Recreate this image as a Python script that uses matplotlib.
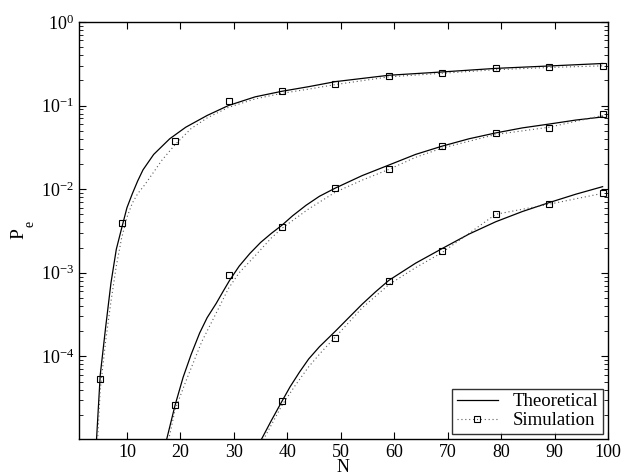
import matplotlib.pyplot as plt
from matplotlib.lines import Line2D
from matplotlib.ticker import LogLocator, NullFormatter

plt.rcParams['font.family'] = ['Liberation Serif', 'DejaVu Serif']
plt.rcParams['mathtext.fontset'] = 'custom'
plt.rcParams['mathtext.rm'] = 'Liberation Serif'
plt.rcParams['mathtext.it'] = 'Liberation Serif:italic'

# theoretical curves
theo_n_1 = [4.3, 5, 6, 7, 8, 9, 10, 11, 12, 13, 15, 18, 21, 25, 29, 34, 39, 44, 49, 59, 69, 79, 89, 99]
theo_pe_1 = [1e-5, 6e-5, 2.2e-4, 7.5e-4, 1.9e-3, 3.4e-3, 6.0e-3, 8.8e-3, 0.0125, 0.017, 0.026, 0.040,
             0.055, 0.076, 0.10, 0.127, 0.148, 0.168, 0.193, 0.23, 0.252, 0.278, 0.297, 0.318]

theo_n_2 = [17.4, 19, 20.5, 22, 23.6, 25, 26.7, 28, 29.2, 31, 33, 35, 37, 39, 41, 43.5, 46, 49,
            54, 59, 64, 69, 74, 79, 84, 89, 94, 99]
theo_pe_2 = [1e-5, 2.6e-5, 5.6e-5, 1.05e-4, 1.9e-4, 2.9e-4, 4.3e-4, 6.0e-4, 8.1e-4, 1.2e-3, 1.7e-3,
             2.3e-3, 2.95e-3, 3.7e-3, 4.8e-3, 6.4e-3, 8.2e-3, 0.0103, 0.0145, 0.0194, 0.026, 0.0327,
             0.040, 0.047, 0.054, 0.060, 0.067, 0.073]

theo_n_3 = [35.1, 37, 39, 40.5, 42.3, 44, 46, 49, 51.5, 54, 56.5, 59, 64, 69, 74, 79, 84, 89, 94, 99]
theo_pe_3 = [1e-5, 1.7e-5, 2.9e-5, 4.3e-5, 6.5e-5, 9.3e-5, 1.3e-4, 2.0e-4, 2.9e-4, 4.2e-4, 5.9e-4,
             8.1e-4, 1.3e-3, 1.95e-3, 2.9e-3, 4.07e-3, 5.4e-3, 6.9e-3, 8.7e-3, 0.0107]

# simulation (dotted line)
sim_n_1 = [4.5, 5, 6, 7, 8, 9, 10, 11, 12, 13.3, 15, 16.5, 19, 22, 25, 29, 34, 39, 44, 49, 59, 69, 79, 89, 99]
sim_pe_1 = [1e-5, 4e-5, 1.5e-4, 4.5e-4, 1.2e-3, 2.6e-3, 4.6e-3, 6.8e-3, 8.8e-3, 0.0112, 0.016, 0.022,
            0.034, 0.053, 0.071, 0.095, 0.12, 0.14, 0.157, 0.178, 0.22, 0.243, 0.268, 0.285, 0.298]

sim_n_2 = [17.8, 19, 21, 24, 27, 29, 31, 34, 37, 39, 44, 49, 54, 59, 64, 69, 79, 89, 99]
sim_pe_2 = [1e-5, 2.3e-5, 5e-5, 1.5e-4, 3.6e-4, 6.5e-4, 1.0e-3, 1.6e-3, 2.6e-3, 3.4e-3, 5.8e-3,
            9.2e-3, 0.0128, 0.0172, 0.024, 0.031, 0.045, 0.055, 0.076]

sim_n_3 = [35.5, 39, 41.5, 44, 46.5, 49, 54, 59, 64, 69, 79, 89, 99]
sim_pe_3 = [1e-5, 2.6e-5, 4.5e-5, 7.5e-5, 1.15e-4, 1.7e-4, 3.8e-4, 7.2e-4, 1.15e-3, 1.75e-3,
            5e-3, 6.6e-3, 8.9e-3]

# simulation markers
mark_n_1 = [5, 9, 19, 29, 39, 49, 59, 69, 79, 89, 99]
mark_pe_1 = [5.3e-5, 3.9e-3, 0.038, 0.113, 0.148, 0.18, 0.227, 0.245, 0.281, 0.289, 0.30]

mark_n_2 = [19, 29, 39, 49, 59, 69, 79, 89, 99]
mark_pe_2 = [2.6e-5, 9.3e-4, 3.57e-3, 0.0102, 0.0172, 0.0324, 0.0469, 0.0533, 0.0798]

mark_n_3 = [39, 49, 59, 69, 79, 89, 99]
mark_pe_3 = [2.9e-5, 1.67e-4, 8.0e-4, 1.8e-3, 5.1e-3, 6.7e-3, 9.1e-3]

fig = plt.figure(figsize=(6.21, 4.76), dpi=100)
ax = fig.add_axes([0.127, 0.078, 0.852, 0.876])

for n, pe in [(theo_n_1, theo_pe_1), (theo_n_2, theo_pe_2), (theo_n_3, theo_pe_3)]:
    ax.plot(n, pe, color='black', lw=0.9)
for n, pe in [(sim_n_1, sim_pe_1), (sim_n_2, sim_pe_2), (sim_n_3, sim_pe_3)]:
    ax.plot(n, pe, color='0.35', lw=0.8, ls=(0, (1, 2.5)))
for n, pe in [(mark_n_1, mark_pe_1), (mark_n_2, mark_pe_2), (mark_n_3, mark_pe_3)]:
    ax.plot(n, pe, ls='none', marker='s', ms=5, mfc='none', mec='black', mew=0.8)

ax.set_yscale('log')
ax.set_xlim(1, 100)
ax.set_ylim(1.03e-5, 1)
ax.set_xticks(range(10, 101, 10))
ax.set_yticks([1e-4, 1e-3, 1e-2, 1e-1, 1e0])
ax.yaxis.set_minor_locator(LogLocator(base=10, subs=range(2, 10)))
ax.yaxis.set_minor_formatter(NullFormatter())
ax.tick_params(which='both', direction='in', top=True, right=True, labelsize=13)
ax.tick_params(which='major', length=5, width=0.8)
ax.tick_params(which='minor', length=3, width=0.6)
for s in ax.spines.values():
    s.set_linewidth(1.0)

ax.set_xlabel('N', fontsize=13, labelpad=-1)
# y label as P with a low subscript e, like the original
fig.text(19 / 621, 1 - 233.5 / 476, 'P', fontsize=14, rotation=90, ha='center', va='center')
fig.text(30.5 / 621, 1 - 224 / 476, 'e', fontsize=10, rotation=90, ha='center', va='center')

handles = [Line2D([], [], color='black', lw=0.9),
           Line2D([], [], color='0.35', lw=0.8, ls=(0, (1, 2.5)), marker='s', ms=5,
                  mfc='none', mec='black', mew=0.8)]
leg = ax.legend(handles, ['Theoretical', 'Simulation'], loc='lower right', fontsize=13.5,
                frameon=True, fancybox=False, edgecolor='black', borderaxespad=0.25,
                handlelength=2.2, labelspacing=0.1, borderpad=0.25)
leg.get_frame().set_linewidth(1.0)

fig.savefig('out.png', dpi=100)
